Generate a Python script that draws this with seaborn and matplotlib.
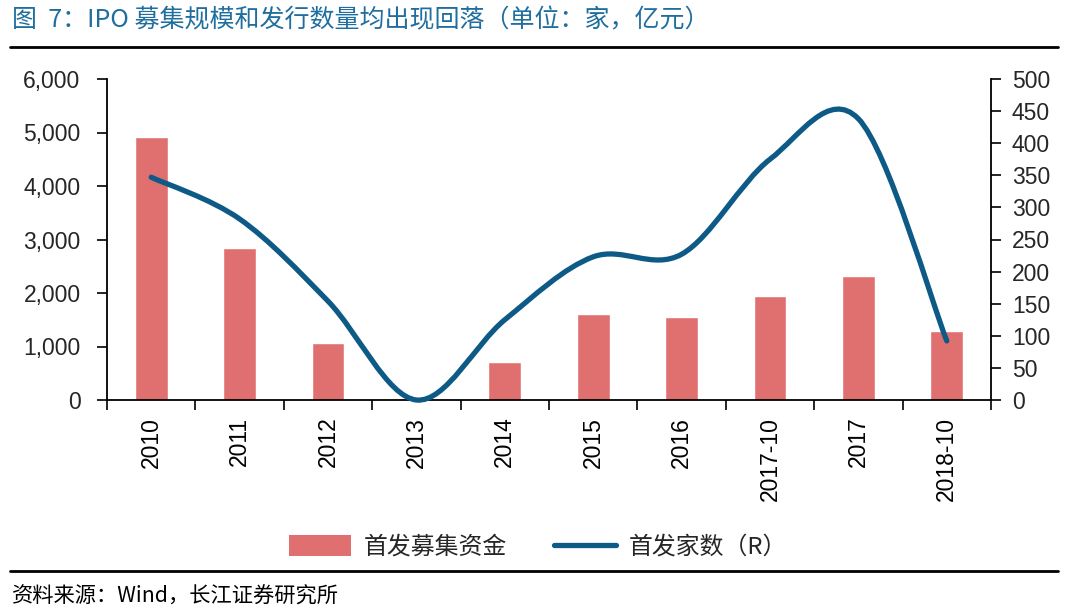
import numpy as np
import pandas as pd
import matplotlib
matplotlib.use("Agg")
import matplotlib.pyplot as plt
from matplotlib.path import Path
from matplotlib.patches import PathPatch
from matplotlib.lines import Line2D
from matplotlib.patches import Patch
import matplotlib.ticker as mticker
import seaborn as sns

categories = ["2010", "2011", "2012", "2013", "2014", "2015", "2016", "2017-10", "2017", "2018-10"]
funds = [4911, 2850, 1065, 0, 716, 1607, 1545, 1950, 2324, 1296]   # 首发募集资金 (亿元)
counts = [347, 282, 154, 0, 125, 223, 227, 375, 438, 92]            # 首发家数 (R)
left_ticks = [0, 1000, 2000, 3000, 4000, 5000, 6000]
right_ticks = [0, 50, 100, 150, 200, 250, 300, 350, 400, 450, 500]

title = "图  7：IPO 募集规模和发行数量均出现回落（单位：家，亿元）"
source = "资料来源：Wind，长江证券研究所"
bar_label = "首发募集资金"
line_label = "首发家数（R）"

bar_color = "#e07070"
line_color = "#0e5a86"
title_color = "#1f6e9e"

sns.set_theme(style="white")
plt.rcParams["font.family"] = ["Liberation Sans", "Noto Sans CJK SC", "DejaVu Sans"]
cjk = ["Noto Sans CJK SC", "DejaVu Sans"]

fig = plt.figure(figsize=(10.76, 6.13), dpi=100)
ax = fig.add_axes([107 / 1076, 1 - 400 / 613, (991 - 107) / 1076, (400 - 79) / 613])

df = pd.DataFrame({"cat": categories, "funds": funds})
sns.barplot(data=df, x="cat", y="funds", ax=ax, color=bar_color, width=0.37,
            saturation=1, order=categories)

ax.set_xlim(-0.5, len(categories) - 0.5)
ax.set_ylim(0, 6000)
ax.set_yticks(left_ticks)
ax.yaxis.set_major_formatter(mticker.FuncFormatter(lambda v, p: f"{int(v):,}"))
ax.set_xlabel("")
ax.set_ylabel("")

# x ticks: labels at centers, tick marks at boundaries
ax.set_xticks(np.arange(len(categories)))
ax.set_xticklabels(categories, rotation=90, fontsize=16.5)
ax.set_xticks(np.arange(-0.5, len(categories) + 0.5, 1), minor=True)
ax.tick_params(axis="x", which="major", length=0, pad=12, colors="black")
ax.tick_params(axis="x", which="minor", length=7, width=1.2, direction="out", color="black", bottom=True)
ax.tick_params(axis="y", which="major", length=7, width=1.2, direction="out", color="black",
               labelsize=16.5, pad=12, left=True)
for lab in ax.get_xticklabels():
    lab.set_verticalalignment("top")

for s in ["top", "right"]:
    ax.spines[s].set_visible(False)
for s in ["left", "bottom"]:
    ax.spines[s].set_color("black")
    ax.spines[s].set_linewidth(1.3)

ax2 = ax.twinx()
ax2.set_ylim(0, 500)
ax2.set_yticks(right_ticks)
ax2.tick_params(axis="y", which="major", length=7, width=1.2, direction="out", color="black",
                labelsize=16.5, pad=8, right=True)
for s in ["top", "left", "bottom"]:
    ax2.spines[s].set_visible(False)
ax2.spines["right"].set_color("black")
ax2.spines["right"].set_linewidth(1.3)

# smoothed line (Bezier through data points, Excel-like smoothing)
xs = np.arange(len(counts), dtype=float)
ys = np.array(counts, dtype=float)
n = len(xs)
verts = [(xs[0], ys[0])]
codes = [Path.MOVETO]
for i in range(n - 1):
    p0 = np.array([xs[max(i - 1, 0)], ys[max(i - 1, 0)]])
    p1 = np.array([xs[i], ys[i]])
    p2 = np.array([xs[i + 1], ys[i + 1]])
    p3 = np.array([xs[min(i + 2, n - 1)], ys[min(i + 2, n - 1)]])
    c1 = p1 + (p2 - p0) / 6.0
    c2 = p2 - (p3 - p1) / 6.0
    verts += [tuple(c1), tuple(c2), tuple(p2)]
    codes += [Path.CURVE4, Path.CURVE4, Path.CURVE4]
patch = PathPatch(Path(verts, codes), facecolor="none", edgecolor=line_color,
                  linewidth=3.8, capstyle="round", joinstyle="round", clip_on=False)
ax2.add_patch(patch)

# title and rules
fig.text(12 / 1076, 1 - 20 / 613, title, fontsize=18, color=title_color,
         ha="left", va="center", family=cjk)
fig.add_artist(Line2D([10 / 1076, 1058 / 1076], [1 - 47 / 613, 1 - 47 / 613],
                      color="black", linewidth=2))
fig.add_artist(Line2D([10 / 1076, 1058 / 1076], [1 - 571 / 613, 1 - 571 / 613],
                      color="black", linewidth=2))
fig.text(12 / 1076, 1 - 597 / 613, source, fontsize=15.3, color="black",
         ha="left", va="center", family=cjk)

handles = [Patch(facecolor=bar_color, edgecolor="none"),
           Line2D([0], [0], color=line_color, linewidth=3.8)]
leg = fig.legend(handles, [bar_label, line_label], loc="center",
                 bbox_to_anchor=(0.5, 1 - 547 / 613), ncol=2, frameon=False,
                 prop={"family": cjk, "size": 17.2}, handlelength=2.6, handleheight=1.0,
                 columnspacing=2.0, handletextpad=0.5)

fig.savefig("out.png", dpi=100)
